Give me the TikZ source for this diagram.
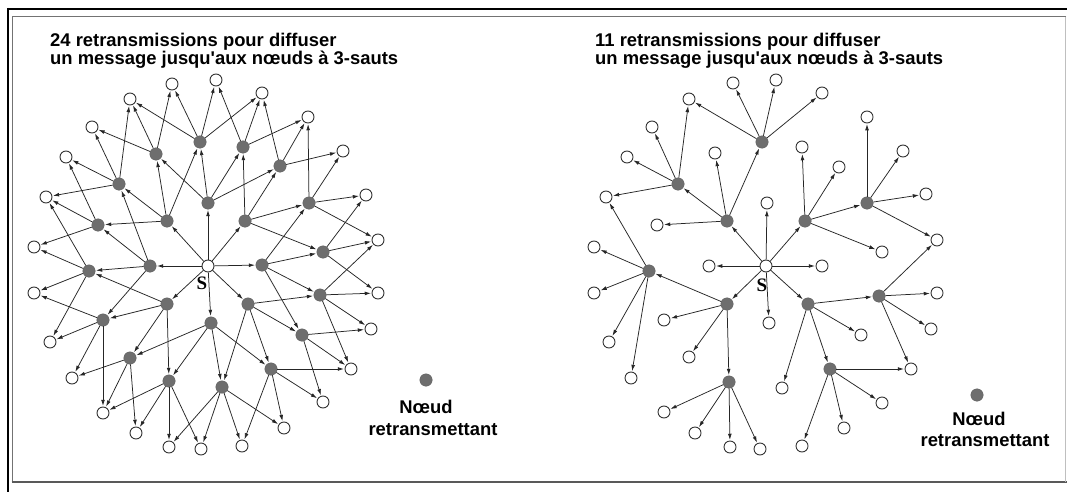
\documentclass[tikz,border=0pt]{standalone}
\usepackage{fontspec}
\setmainfont{Liberation Sans}
\newfontfamily\serifS{Liberation Serif}
\usetikzlibrary{arrows.meta}
\definecolor{relaygray}{HTML}{6E6E6E}
\definecolor{edgecol}{HTML}{262626}
\begin{document}
\begin{tikzpicture}[x=1pt,y=-1pt,
  relay/.style={circle,fill=relaygray,draw=relaygray!85!black,line width=0.3pt,minimum size=12.5pt,inner sep=0pt},
  leaf/.style={circle,fill=white,draw=black!80,line width=0.9pt,minimum size=12pt,inner sep=0pt},
  arr/.style={-{Latex[length=6.2pt,width=3.8pt]},line width=0.75pt,draw=edgecol,shorten >=0.6pt},
  title/.style={font=\fontsize{18.4}{22}\selectfont\bfseries,inner sep=0pt},
  srclabel/.style={font=\serifS\fontsize{19}{19}\selectfont\bfseries,inner sep=0pt}]
\useasboundingbox (0,0) rectangle (1067,492);
\fill[white] (0,0) rectangle (1067,492);

% frame
\draw[black,line width=2.2pt] (7,9) -- (1067,9);
\draw[black,line width=2.2pt] (8,8) -- (8,492);
\draw[black!55,line width=1.4pt] (1066,16.6) -- (12.6,16.6) -- (12.6,482);
\draw[black!65,line width=2pt] (11.6,482) -- (1067,482);
\draw[black!25,line width=0.8pt] (1065.5,16.6) -- (1065.5,482);

% titles
\node[title,anchor=base west] (tl1) at (50,46.5) {24 retransmissions pour diffuser};
\node[title,anchor=base west] (tl2) at (50,65) {un message jusqu\textquotesingle aux nœuds à 3-sauts};
\node[title,anchor=base west] (tr1) at (595,46.5) {11 retransmissions pour diffuser};
\node[title,anchor=base west] (tr2) at (595,65) {un message jusqu\textquotesingle aux nœuds à 3-sauts};

% ---------- flooding: every neighbour retransmits ----------
\node[leaf] (S) at (208,266) {};
\node[srclabel] (Slab) at (202,283) {S};
\foreach \n/\x/\y in {A1/208/203,A2/245/221,A3/262/265,A4/248/304,A5/211/323,A6/167/304,A7/150/266,A8/167/221,
  B1/200/142,B2/243/147,B3/280/166,B4/309/203,B5/323/252,B6/320/295,B7/302/335,B8/271/369,
  B9/222/387,B10/169/381,B11/130/358,B12/103/320,B13/89/271,B14/98/225,B15/119/184,B16/156/154}
  \node[relay] (\n) at (\x,\y) {};
\foreach \n/\x/\y in {L1/216/80,L2/262/93,L3/308/117,L4/343/151,L5/366/195,L6/378/240,L7/378/293,
  L8/371/329,L9/351/369,L10/323/402,L11/284/428,L12/242/446,L13/201/449,L14/169/447,L15/136/433,
  L16/103/413,L17/72/378,L18/50/342,L19/34/293,L20/34/247,L21/46/197,L22/66/157,L23/92/127,
  L24/130/99,L25/172/84}
  \node[leaf] (\n) at (\x,\y) {};

\foreach \s/\ds in {S/{A1,A2,A3,A4,A5,A6,A7,A8},
  A1/{B16,B1,B2,B3},A2/{B2,B3,B4,B5},A3/{B4,B5,B6,B7},A4/{B6,B7,B8,B9},
  A5/{B8,B9,B10,B11},A6/{B10,B11,B12,B13},A7/{B12,B13,B14,B15},A8/{B14,B15,B16,B1},
  B1/{L24,L25,L1,L2},B2/{L1,L2,L3},B3/{L2,L3,L4},B4/{L3,L4,L5,L6},
  B5/{L5,L6,L7},B6/{L6,L7,L8,L9},B7/{L8,L9,L10},B8/{L9,L10,L11,L12},
  B9/{L11,L12,L13,L14},B10/{L13,L14,L15,L16},B11/{L15,L16,L17},B12/{L16,L17,L18,L19},
  B13/{L18,L19,L20,L21},B14/{L20,L21,L22},B15/{L21,L22,L23,L24},B16/{L23,L24,L25}}
  \foreach \d in \ds {\draw[arr] (\s) -- (\d);};

\node[relay] (legdotL) at (426,380) {};
\node[title,anchor=base] (legL1) at (426,413) {Nœud};
\node[title,anchor=base] (legL2) at (433,435) {retransmettant};

% ---------- selected relays only ----------
\node[leaf] (rS) at (766,266) {};
\node[srclabel] (rSlab) at (762,285) {S};
\foreach \n/\x/\y in {G1/762/142,G2/678/184,G3/727/221,G4/805/221,G5/867/203,G6/649/271,
  G7/727/304,G8/808/304,G9/879/296,G10/729/382,G11/830/369}
  \node[relay] (\n) at (\x,\y) {};
\foreach \n/\x/\y in {w1/733/83,w2/776/80,w3/822/93,w4/689/99,w5/652/127,w6/627/157,w7/606/197,
  w8/715/153,w9/802/147,w10/839/167,w11/867/117,w12/903/151,w13/926/194,w14/937/240,w15/882/252,
  w16/767/203,w17/657/225,w18/709/266,w19/822/266,w20/594/247,w21/594/293,w22/937/293,w23/931/329,
  w24/664/320,w25/769/323,w26/861/335,w27/609/342,w28/689/357,w29/631/378,w30/911/369,w31/782/388,
  w32/882/403,w33/664/412,w34/695/433,w35/730/447,w36/760/449,w37/844/428,w38/802/446}
  \node[leaf] (\n) at (\x,\y) {};

\foreach \s/\ds in {rS/{G3,G4,G7,G8,w16,w18,w19,w25},
  G3/{G1,G2,w8,w17},G1/{w1,w2,w3,w4},G2/{w4,w5,w6,w7},
  G4/{G5,w9,w10,w15},G5/{w11,w12,w13,w14},
  G7/{G6,G10,w24,w28},G6/{w7,w20,w21,w27,w29},G10/{w33,w34,w35,w36},
  G8/{G9,G11,w26,w31},G9/{w14,w22,w23,w30},G11/{w30,w32,w37,w38}}
  \foreach \d in \ds {\draw[arr] (\s) -- (\d);};

\node[relay] (legdotR) at (977,395) {};
\node[title,anchor=base] (legR1) at (979,425) {Nœud};
\node[title,anchor=base] (legR2) at (985,446) {retransmettant};
\end{tikzpicture}
\end{document}
